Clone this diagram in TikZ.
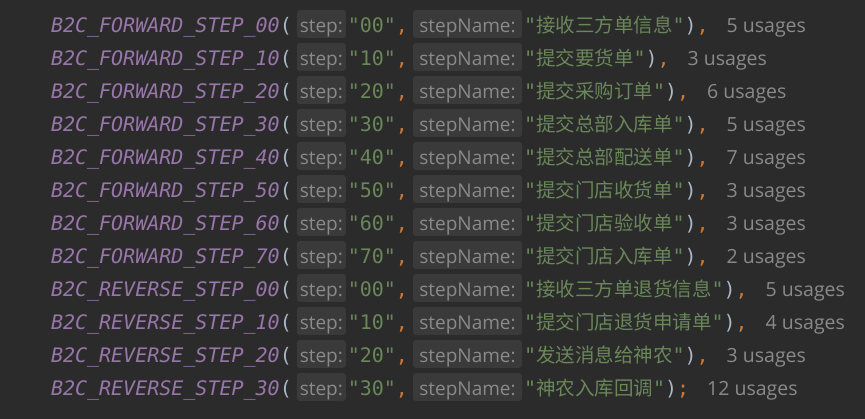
\documentclass[tikz,border=0pt]{standalone}
\usepackage{fontspec}
\usetikzlibrary{positioning}
\newfontfamily\codefont{DejaVu Sans Mono}[ItalicFont={DejaVu Sans Mono Oblique}]
\newfontfamily\hintfont{Open Sans}
\newfontfamily\cjk{Noto Sans CJK SC}
\definecolor{bgcol}{HTML}{2B2B2B}
\definecolor{enumcol}{HTML}{9876AA}
\definecolor{parencol}{HTML}{A9B7C6}
\definecolor{strcol}{HTML}{6A8759}
\definecolor{kwcol}{HTML}{CC7832}
\definecolor{hintbg}{HTML}{3A3A3A}
\definecolor{hintcol}{HTML}{8A8A8A}
\tikzset{
  code/.style={inner sep=0pt, outer sep=0pt, font=\codefont\fontsize{20}{24}\selectfont},
  enumname/.style={code, text=enumcol, font=\codefont\itshape\fontsize{20}{24}\selectfont},
  hint/.style={inner sep=0pt, outer sep=0pt, fill=hintbg, rounded corners=3pt, text=hintcol,
    font=\hintfont\fontsize{19}{22}\selectfont, text height=22.5pt, text depth=5.5pt},
  usage/.style={inner sep=0pt, outer sep=0pt, text=hintcol, font=\hintfont\fontsize{19.5}{22}\selectfont}
}
\newcommand{\cjkstr}[1]{"{\cjk\fontsize{19.5}{24}\selectfont #1}"}
\begin{document}
\begin{tikzpicture}[x=1pt,y=-1pt]
    \fill [bgcol] (0,0) rectangle (865,419);

    \foreach \r/\dir/\n/\txt/\u in {1/FORWARD/00/接收三方单信息/5, 2/FORWARD/10/提交要货单/3,
        3/FORWARD/20/提交采购订单/6, 4/FORWARD/30/提交总部入库单/5, 5/FORWARD/40/提交总部配送单/7,
        6/FORWARD/50/提交门店收货单/3, 7/FORWARD/60/提交门店验收单/3, 8/FORWARD/70/提交门店入库单/2,
        9/REVERSE/00/接收三方单退货信息/5, 10/REVERSE/10/提交门店退货申请单/4,
        11/REVERSE/20/发送消息给神农/3, 12/REVERSE/30/神农入库回调/12}{
    \pgfmathsetmacro\yb{32.5+33*(\r-1)}
    \node [enumname, anchor=base west] (id\r) at (51,\yb) {B2C\_\dir\_STEP\_\n};
    \node [code, text=parencol, base right=0pt of id\r] (po\r) {(};
    \node [hint, minimum width=49pt, base right=5pt of po\r] (hs\r) {step:};
    \node [code, text=strcol, base right=2pt of hs\r] (sv\r) {"\n"};
    \node [code, text=kwcol, base right=0pt of sv\r] (ca\r) {,};
    \node [hint, minimum width=109pt, base right=5pt of ca\r] (hn\r) {stepName:};
    \node [code, text=strcol, base right=2pt of hn\r] (nv\r) {\cjkstr{\txt}};
    \node [code, text=parencol, base right=0pt of nv\r] (pc\r) {)};
    \node [code, text=kwcol, base right=0pt of pc\r] (tm\r) {\ifnum\r<12 ,\else;\fi};
    \node [usage, base right=18pt of tm\r] (us\r) {\u\ usages};
    }

    \end{tikzpicture}
\end{document}
